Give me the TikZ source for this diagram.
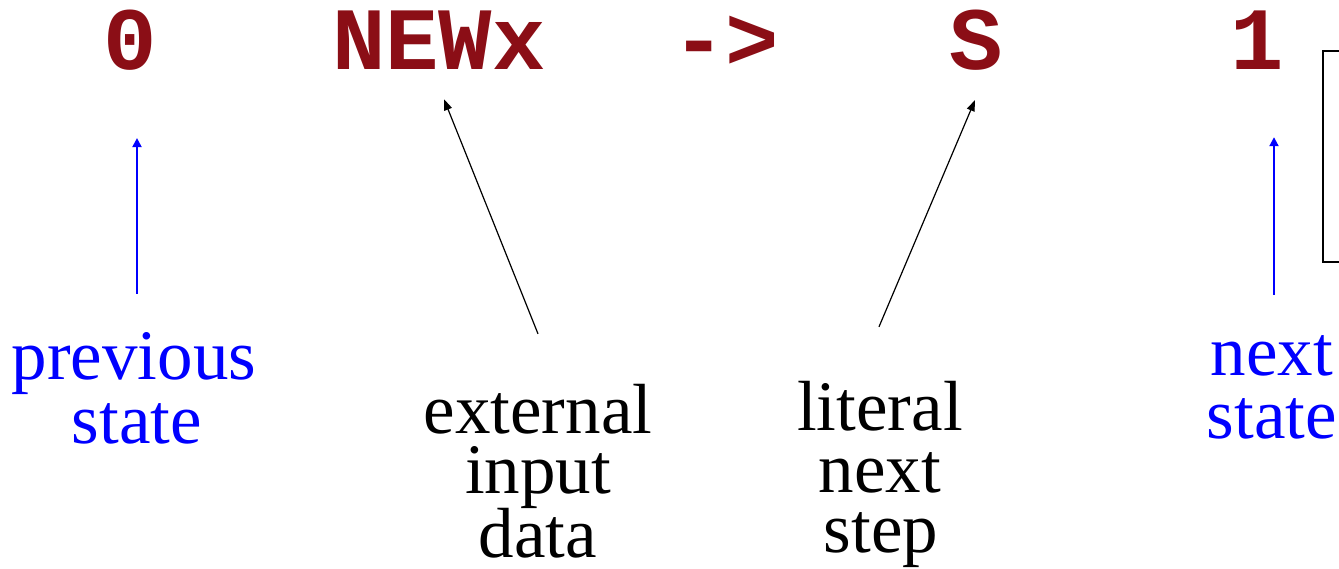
\documentclass[tikz,border=0pt]{standalone}
\usepackage{fontspec}
\setmainfont{Liberation Serif}
\newfontfamily\codefont{Liberation Mono}
\usetikzlibrary{arrows.meta,calc}
\definecolor{codered}{RGB}{139,14,22}
\definecolor{noteblue}{RGB}{0,0,255}
\begin{document}
\begin{tikzpicture}[x=1pt,y=-1pt,
  code/.style={anchor=base,inner sep=0pt,text=codered,
    font=\codefont\bfseries\fontsize{89}{89}\selectfont},
  blacknote/.style={anchor=base,inner sep=0pt,text=black,
    text height=44pt,text depth=10pt,
    font=\fontsize{71}{62}\selectfont},
  bluenote/.style={blacknote,text=noteblue},
  blackarr/.style={-{Triangle[length=11pt,width=8pt]},line width=1.2pt,black},
  bluearr/.style={-{Triangle[length=9pt,width=9pt]},line width=2pt,noteblue}]
\useasboundingbox (0,0) rectangle (1339,569);
\clip (0,0) rectangle (1339,569);

% the rule, written as code
\node[code] (zero) at (130,70) {0};
\node[code] (newx) at (439,70) {NEWx};
\node[code] (goesto) at (726,70) {->};
\node[code] (ess) at (976,70) {S};
\node[code] (one) at (1257,70) {1};

% frame at the right, running off the page
\draw[line width=2pt] (1360,51) -| (1323,262) -- (1360,262);

% explanatory labels
\node[bluenote] (prev1) at (134,379) {previous};
\node[bluenote] (prev2) at (137,443) {state};
\node[blacknote] (ext1) at (538,433) {external};
\node[blacknote] (ext2) at (538,493) {input};
\node[blacknote] (ext3) at (538,557) {data};
\node[blacknote] (lit1) at (880,430) {literal};
\node[blacknote] (lit2) at (880,492) {next};
\node[blacknote] (lit3) at (881,552) {step};
\node[bluenote] (nxt1) at (1272,375) {next};
\node[bluenote] (nxt2) at (1272,438) {state};

% pointers from the labels to the parts of the rule
\draw[bluearr] ($(prev1.north)+(3,-41)$) -- ($(zero.south)+(7,67)$);
\draw[blackarr] ($(ext1.north)+(0,-55)$) -- ($(newx.south)+(5,29)$);
\draw[blackarr] ($(lit1.north)+(-1,-59)$) -- ($(ess.south)+(-1,29)$);
\draw[bluearr] ($(nxt1.north)+(2,-36)$) -- ($(one.south)+(17,67)$);
\end{tikzpicture}
\end{document}
